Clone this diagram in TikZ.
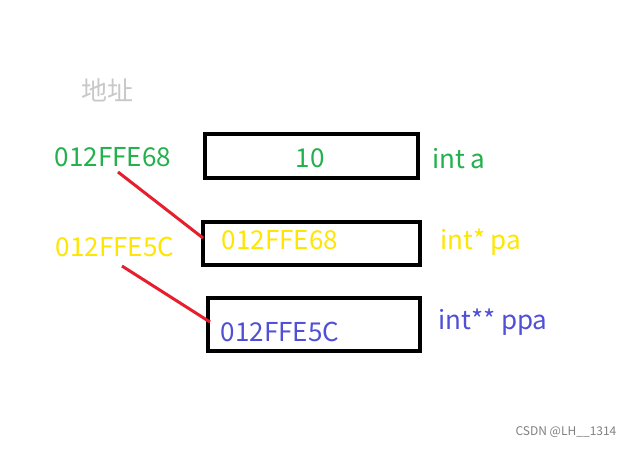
\documentclass[tikz,border=0pt]{standalone}
\usepackage{fontspec}
\setmainfont{Noto Sans CJK SC}
\definecolor{gr}{RGB}{34,177,76}
\definecolor{ye}{RGB}{255,230,0}
\definecolor{bl}{RGB}{80,80,215}
\definecolor{rd}{RGB}{230,30,45}
\definecolor{gy}{RGB}{200,200,200}
\begin{document}
\begin{tikzpicture}[x=1pt,y=-1pt,
  box/.style={draw=black,line width=4pt},
  lbl/.style={font=\fontsize{26}{30}\selectfont,inner sep=0pt},
  ptr/.style={draw=rd,line width=3pt}]
\useasboundingbox (0,0) rectangle (636,448);
\fill[white] (0,0) rectangle (636,448);
\node[lbl,text=gy] (addr) at (107,90) {地址};
\draw[box] (205,134) rectangle (418,178);
\draw[box] (203,222) rectangle (420,265);
\draw[box] (208,298) rectangle (420,351);
\node[lbl,text=gr] (a1) at (113,157) {012FFE68};
\node[lbl,text=gr] (v1) at (310,158) {10};
\node[lbl,text=gr,anchor=west] (n1) at (432,159) {int a};
\node[lbl,text=ye] (a2) at (115,247) {012FFE5C};
\node[lbl,text=ye] (v2) at (280,240) {012FFE68};
\node[lbl,text=ye,anchor=west] (n2) at (440,242) {int* pa};
\node[lbl,text=bl] (v3) at (280,332) {012FFE5C};
\node[lbl,text=bl,anchor=west] (n3) at (438,322) {int** ppa};
\coordinate (p1s) at (118,172); \coordinate (p1e) at (203,238);
\coordinate (p2s) at (122,266); \coordinate (p2e) at (210,322);
\draw[ptr] (p1s) -- (p1e);
\draw[ptr] (p2s) -- (p2e);
\node[font=\fontsize{12}{14}\selectfont,text=gray,inner sep=0pt] (wm) at (566,432) {CSDN @LH\_\_1314};
\end{tikzpicture}
\end{document}
